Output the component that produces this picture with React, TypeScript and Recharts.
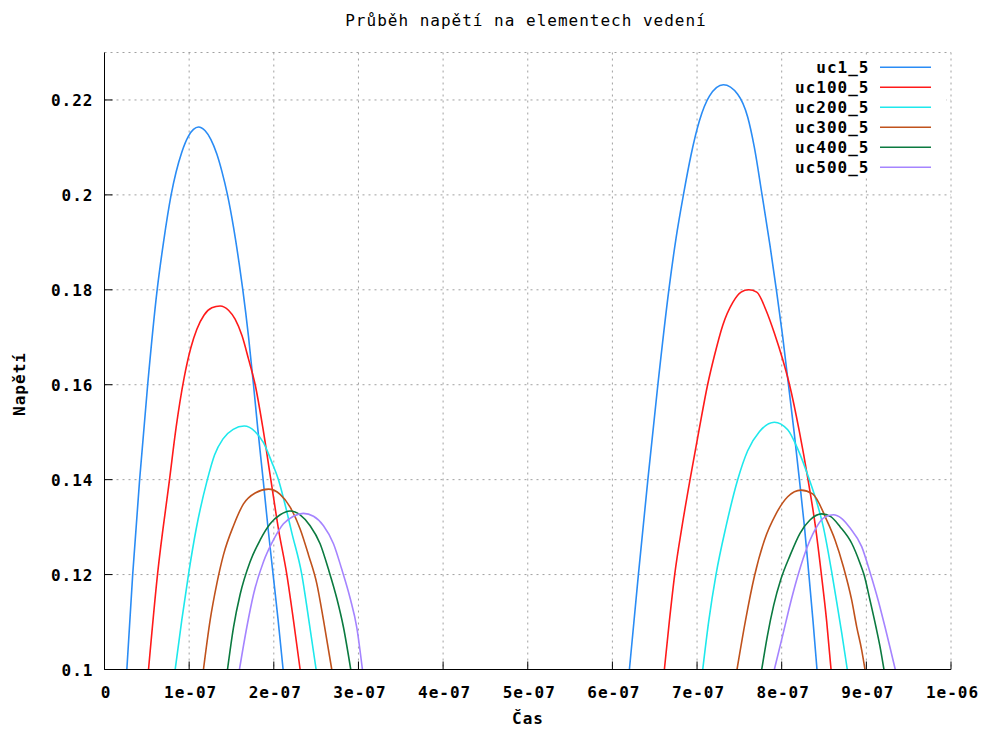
import React from 'react';
import { LineChart, Line, XAxis, YAxis, CartesianGrid } from 'recharts';

const TITLE = 'Průběh napětí na elementech vedení';
const X_LABEL = 'Čas';
const Y_LABEL = 'Napětí';

const X_TICKS = [0, 1e-7, 2e-7, 3e-7, 4e-7, 5e-7, 6e-7, 7e-7, 8e-7, 9e-7, 1e-6];
const X_TICK_LABELS = ['0', '1e-07', '2e-07', '3e-07', '4e-07', '5e-07', '6e-07', '7e-07', '8e-07', '9e-07', '1e-06'];
const Y_TICKS = [0.1, 0.12, 0.14, 0.16, 0.18, 0.2, 0.22];
const Y_TICK_LABELS = ['0.1', '0.12', '0.14', '0.16', '0.18', '0.2', '0.22'];
const X_DOMAIN = [0, 1e-6];
const Y_DOMAIN = [0.1, 0.23];

const SERIES_NAMES = ['uc1_5', 'uc100_5', 'uc200_5', 'uc300_5', 'uc400_5', 'uc500_5'];
const SERIES_COLORS = ['#2a8cf5', '#ff1a1a', '#1ee8ec', '#c0521c', '#0b7a40', '#a584ff'];

// [time (s), voltage] — first pulse (a) and second pulse (b)
const uc1_5_a = [
  [0.264e-7, 0.1], [0.333e-7, 0.12], [0.415e-7, 0.14], [0.51e-7, 0.16], [0.622e-7, 0.18],
  [0.697e-7, 0.19], [0.787e-7, 0.2], [0.913e-7, 0.209], [0.992e-7, 0.2124], [1.051e-7, 0.2138],
  [1.11e-7, 0.2143], [1.189e-7, 0.2135], [1.256e-7, 0.2117], [1.327e-7, 0.2086], [1.386e-7, 0.205],
  [1.453e-7, 0.2], [1.524e-7, 0.1932], [1.591e-7, 0.1855], [1.634e-7, 0.18], [1.701e-7, 0.1702],
  [1.76e-7, 0.16], [1.811e-7, 0.1507], [1.874e-7, 0.14], [1.933e-7, 0.1296], [1.992e-7, 0.12],
  [2.051e-7, 0.1104], [2.11e-7, 0.1],
];
const uc1_5_b = [
  [6.201e-7, 0.1], [6.307e-7, 0.12], [6.419e-7, 0.14], [6.537e-7, 0.16], [6.667e-7, 0.18],
  [6.752e-7, 0.1909], [6.839e-7, 0.2], [6.929e-7, 0.2084], [7.028e-7, 0.2156], [7.146e-7, 0.2208],
  [7.311e-7, 0.2232], [7.48e-7, 0.2212], [7.598e-7, 0.2164], [7.677e-7, 0.21], [7.768e-7, 0.2],
  [7.862e-7, 0.1893], [7.937e-7, 0.18], [8.012e-7, 0.1701], [8.079e-7, 0.1601], [8.146e-7, 0.1501],
  [8.209e-7, 0.14], [8.268e-7, 0.1302], [8.321e-7, 0.12], [8.37e-7, 0.1102], [8.417e-7, 0.1],
];

const uc100_5_a = [
  [0.52e-7, 0.1], [0.626e-7, 0.12], [0.768e-7, 0.14], [0.846e-7, 0.151], [0.941e-7, 0.1615],
  [1.02e-7, 0.1678], [1.091e-7, 0.1717], [1.177e-7, 0.1747], [1.268e-7, 0.1762], [1.366e-7, 0.1766],
  [1.465e-7, 0.1757], [1.543e-7, 0.1738], [1.625e-7, 0.1703], [1.7e-7, 0.1655], [1.78e-7, 0.16],
  [1.87e-7, 0.151], [1.965e-7, 0.14], [2.055e-7, 0.1296], [2.154e-7, 0.12], [2.232e-7, 0.1104],
  [2.311e-7, 0.1],
];
const uc100_5_b = [
  [6.614e-7, 0.1], [6.673e-7, 0.1102], [6.736e-7, 0.12], [6.823e-7, 0.1302], [6.917e-7, 0.14],
  [7.02e-7, 0.1501], [7.126e-7, 0.1601], [7.205e-7, 0.1661], [7.303e-7, 0.1725], [7.421e-7, 0.1773],
  [7.52e-7, 0.1795], [7.61e-7, 0.18], [7.705e-7, 0.1795], [7.815e-7, 0.1757], [7.913e-7, 0.1709],
  [8.012e-7, 0.1653], [8.091e-7, 0.1601], [8.209e-7, 0.1501], [8.311e-7, 0.14], [8.398e-7, 0.1302],
  [8.469e-7, 0.12], [8.531e-7, 0.1102], [8.583e-7, 0.1],
];

const uc200_5_a = [
  [0.835e-7, 0.1], [0.913e-7, 0.1104], [0.992e-7, 0.12], [1.083e-7, 0.1296], [1.215e-7, 0.14],
  [1.3e-7, 0.1452], [1.4e-7, 0.1486], [1.52e-7, 0.1506], [1.65e-7, 0.1513], [1.78e-7, 0.1501],
  [1.878e-7, 0.1478], [1.976e-7, 0.1437], [2.055e-7, 0.14], [2.134e-7, 0.1347], [2.213e-7, 0.1288],
  [2.331e-7, 0.12], [2.409e-7, 0.111], [2.5e-7, 0.1],
];
const uc200_5_b = [
  [7.067e-7, 0.1], [7.138e-7, 0.1102], [7.224e-7, 0.12], [7.343e-7, 0.1302], [7.48e-7, 0.14],
  [7.598e-7, 0.1461], [7.736e-7, 0.1501], [7.913e-7, 0.1521], [8.071e-7, 0.1505], [8.189e-7, 0.1465],
  [8.327e-7, 0.14], [8.41e-7, 0.1355], [8.491e-7, 0.1301], [8.55e-7, 0.1247], [8.591e-7, 0.1205],
  [8.65e-7, 0.1142], [8.709e-7, 0.1077], [8.775e-7, 0.1],
];

const uc300_5_a = [
  [1.169e-7, 0.1], [1.248e-7, 0.1104], [1.327e-7, 0.1181], [1.406e-7, 0.1242], [1.524e-7, 0.1303],
  [1.642e-7, 0.1349], [1.78e-7, 0.1372], [1.937e-7, 0.138], [2.075e-7, 0.1369], [2.193e-7, 0.1342],
  [2.311e-7, 0.1296], [2.409e-7, 0.1242], [2.508e-7, 0.1181], [2.587e-7, 0.1104], [2.685e-7, 0.1],
];
const uc300_5_b = [
  [7.472e-7, 0.1], [7.571e-7, 0.1102], [7.677e-7, 0.1196], [7.795e-7, 0.1272], [7.933e-7, 0.1328],
  [8.071e-7, 0.1364], [8.228e-7, 0.1378], [8.366e-7, 0.137], [8.531e-7, 0.1315], [8.63e-7, 0.1273],
  [8.728e-7, 0.1217], [8.827e-7, 0.1146], [8.886e-7, 0.109], [8.945e-7, 0.1041], [8.984e-7, 0.1],
];

const uc400_5_a = [
  [1.453e-7, 0.1], [1.524e-7, 0.1089], [1.602e-7, 0.1158], [1.72e-7, 0.1227], [1.839e-7, 0.1273],
  [1.957e-7, 0.1307], [2.075e-7, 0.1326], [2.193e-7, 0.1334], [2.311e-7, 0.1326], [2.429e-7, 0.1303],
  [2.547e-7, 0.1265], [2.646e-7, 0.1211], [2.744e-7, 0.115], [2.823e-7, 0.1089], [2.909e-7, 0.1],
];
const uc400_5_b = [
  [7.764e-7, 0.1], [7.83e-7, 0.107], [7.905e-7, 0.1135], [7.99e-7, 0.119], [8.098e-7, 0.124],
  [8.216e-7, 0.1287], [8.334e-7, 0.1315], [8.473e-7, 0.1328], [8.58e-7, 0.1322], [8.689e-7, 0.1301],
  [8.827e-7, 0.1266], [8.925e-7, 0.1224], [8.972e-7, 0.12], [9.043e-7, 0.1146], [9.113e-7, 0.109],
  [9.169e-7, 0.1041], [9.208e-7, 0.1],
];

const uc500_5_a = [
  [1.594e-7, 0.1], [1.681e-7, 0.1089], [1.76e-7, 0.1158], [1.878e-7, 0.1227], [1.996e-7, 0.1273],
  [2.114e-7, 0.1307], [2.232e-7, 0.1323], [2.35e-7, 0.1329], [2.469e-7, 0.1323], [2.587e-7, 0.1303],
  [2.705e-7, 0.1265], [2.803e-7, 0.1211], [2.902e-7, 0.115], [2.98e-7, 0.1089], [3.047e-7, 0.1],
];
const uc500_5_b = [
  [7.913e-7, 0.1], [8.016e-7, 0.1075], [8.098e-7, 0.1136], [8.177e-7, 0.1189], [8.275e-7, 0.1245],
  [8.393e-7, 0.1294], [8.492e-7, 0.1319], [8.61e-7, 0.1326], [8.71e-7, 0.1318], [8.808e-7, 0.1298],
  [8.945e-7, 0.1259], [9.043e-7, 0.1205], [9.141e-7, 0.1145], [9.22e-7, 0.109], [9.279e-7, 0.1047],
  [9.342e-7, 0.1],
];

const PULSES = [
  [uc1_5_a, uc1_5_b],
  [uc100_5_a, uc100_5_b],
  [uc200_5_a, uc200_5_b],
  [uc300_5_a, uc300_5_b],
  [uc400_5_a, uc400_5_b],
  [uc500_5_a, uc500_5_b],
];

const GAP_T = 4.5e-7;

const buildSeries = (pulses: number[][][]) => [
  ...pulses[0].map(([t, v]) => ({ t, v })),
  { t: GAP_T, v: null },
  ...pulses[1].map(([t, v]) => ({ t, v })),
];

const SERIES = PULSES.map((p, i) => ({
  name: SERIES_NAMES[i],
  color: SERIES_COLORS[i],
  data: buildSeries(p),
}));

const FONT = "'DejaVu Sans Mono', 'Liberation Mono', monospace";
const FONT_SIZE = 16;
const LS = 1;

const W = 986;
const H = 729;
const PLOT_LEFT = 104.5;
const PLOT_RIGHT = 951;
const PLOT_TOP = 52.5;
const PLOT_BOTTOM = 669.5;
const TICK_LEN = 8;

const xLabelOf = (v: number) => {
  const i = X_TICKS.findIndex((x) => Math.abs(x - v) < 1e-12);
  return i >= 0 ? X_TICK_LABELS[i] : '';
};
const yLabelOf = (v: number) => {
  const i = Y_TICKS.findIndex((y) => Math.abs(y - v) < 1e-9);
  return i >= 0 ? Y_TICK_LABELS[i] : '';
};

const textStyle = {
  fontFamily: FONT,
  fontSize: FONT_SIZE,
  fontWeight: 'bold' as const,
  letterSpacing: LS,
  fill: '#000',
};

const BottomTick = (props: any) => {
  const { x, y, payload } = props;
  return (
    <g>
      <line x1={x} y1={y} x2={x} y2={y - TICK_LEN} stroke="#000" strokeWidth={1} />
      <text x={x + LS / 2 + 1} y={y + 28} textAnchor="middle" style={textStyle}>
        {xLabelOf(payload.value)}
      </text>
    </g>
  );
};

const TopTick = (props: any) => {
  const { x, y } = props;
  return <line x1={x} y1={y} x2={x} y2={y + TICK_LEN} stroke="#000" strokeWidth={1} />;
};

const LeftTick = (props: any) => {
  const { x, y, payload } = props;
  return (
    <g>
      <line x1={x} y1={y} x2={x + TICK_LEN} y2={y} stroke="#000" strokeWidth={1} />
      <text x={x - 12 + LS} y={y + 6} textAnchor="end" style={textStyle}>
        {yLabelOf(payload.value)}
      </text>
    </g>
  );
};

const RightTick = (props: any) => {
  const { x, y } = props;
  return <line x1={x} y1={y} x2={x - TICK_LEN} y2={y} stroke="#000" strokeWidth={1} />;
};

const LEGEND_TEXT_X = 869.5;
const LEGEND_LINE_X1 = 880;
const LEGEND_LINE_X2 = 931;
const LEGEND_Y0 = 67.3;
const LEGEND_DY = 20;

export default function App() {
  return (
    <div style={{ position: 'absolute', left: 0, top: 0, width: W, height: H, background: '#fff' }}>
      <LineChart
        width={W}
        height={H}
        margin={{ top: PLOT_TOP, right: W - PLOT_RIGHT, bottom: H - PLOT_BOTTOM - 30, left: PLOT_LEFT - 60 }}
      >
        <CartesianGrid stroke="#a0a0a0" strokeDasharray="2 4" strokeWidth={1} />
        <XAxis
          dataKey="t"
          type="number"
          domain={X_DOMAIN}
          ticks={X_TICKS}
          interval={0}
          allowDataOverflow
          height={30}
          tickSize={0}
          tickMargin={0}
          tickLine={false}
          axisLine={{ stroke: '#000', strokeWidth: 1 }}
          tick={<BottomTick />}
        />
        <XAxis
          xAxisId="top"
          orientation="top"
          dataKey="t"
          type="number"
          domain={X_DOMAIN}
          ticks={X_TICKS}
          interval={0}
          allowDataOverflow
          height={0}
          tickSize={0}
          tickMargin={0}
          tickLine={false}
          axisLine={{ stroke: '#000', strokeWidth: 1 }}
          tick={<TopTick />}
        />
        <YAxis
          type="number"
          domain={Y_DOMAIN}
          ticks={Y_TICKS}
          interval={0}
          allowDataOverflow
          width={60}
          tickSize={0}
          tickMargin={0}
          tickLine={false}
          axisLine={{ stroke: '#000', strokeWidth: 1 }}
          tick={<LeftTick />}
        />
        <YAxis
          yAxisId="right"
          orientation="right"
          type="number"
          domain={Y_DOMAIN}
          ticks={Y_TICKS}
          interval={0}
          allowDataOverflow
          width={0}
          tickSize={0}
          tickMargin={0}
          tickLine={false}
          axisLine={{ stroke: '#000', strokeWidth: 1 }}
          tick={<RightTick />}
        />
        {SERIES.map((s) => (
          <Line
            key={s.name}
            data={s.data}
            dataKey="v"
            name={s.name}
            type="monotone"
            stroke={s.color}
            strokeWidth={1.6}
            dot={false}
            activeDot={false}
            connectNulls={false}
            isAnimationActive={false}
          />
        ))}
      </LineChart>
      <svg
        width={W}
        height={H}
        style={{ position: 'absolute', left: 0, top: 0, pointerEvents: 'none' }}
      >
        <text x={526} y={26} textAnchor="middle" style={{ ...textStyle, fontWeight: 'normal' }}>
          {TITLE}
        </text>
        <text x={528} y={724} textAnchor="middle" style={textStyle}>
          {X_LABEL}
        </text>
        <text
          x={0}
          y={0}
          textAnchor="middle"
          transform="translate(25 384) rotate(-90)"
          style={textStyle}
        >
          {Y_LABEL}
        </text>
        <rect x={786} y={57} width={160} height={120} fill="#fff" />
        {SERIES.map((s, i) => {
          const cy = LEGEND_Y0 + i * LEGEND_DY;
          return (
            <g key={s.name}>
              <text x={LEGEND_TEXT_X} y={cy + 6} textAnchor="end" style={textStyle}>
                {s.name}
              </text>
              <line x1={LEGEND_LINE_X1} y1={cy} x2={LEGEND_LINE_X2} y2={cy} stroke={s.color} strokeWidth={1.5} />
            </g>
          );
        })}
      </svg>
    </div>
  );
}
